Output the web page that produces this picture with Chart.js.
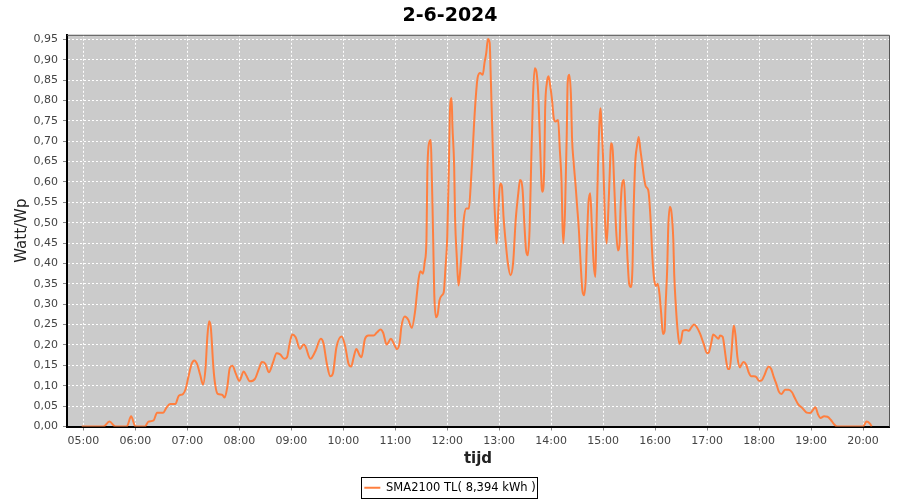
<!DOCTYPE html>
<html>
<head>
<meta charset="utf-8">
<script src="https://cdn.jsdelivr.net/npm/chart.js@4"></script>
<style>
  html, body { margin: 0; padding: 0; background: #ffffff; }
  #wrap { position: relative; width: 900px; height: 500px; }
</style>
</head>
<body>
<div id="wrap"><canvas id="powerChart" width="900" height="500"></canvas></div>
<script>
const chartTitle = "2-6-2024";
const seriesName = "SMA2100 TL( 8,394 kWh )";

const times = [
  "04:58","05:23","05:30","05:37","05:50","05:55","06:00","06:11","06:15","06:21",
  "06:25","06:32","06:36","06:40","06:46","06:50","06:55","06:58","07:01","07:05",
  "07:08","07:11","07:15","07:18","07:21","07:23","07:25","07:27","07:30","07:32",
  "07:35","07:40","07:43","07:46","07:49","07:52","07:56","08:00","08:05","08:08",
  "08:12","08:18","08:23","08:26","08:30","08:34","08:39","08:43","08:47","08:52",
  "08:55","08:58","09:01","09:05","09:10","09:14","09:16","09:22","09:28","09:34",
  "09:37","09:41","09:45","09:48","09:52","09:58","10:02","10:06","10:09","10:12",
  "10:15","10:19","10:21","10:25","10:29","10:35","10:39","10:43","10:46","10:50",
  "10:55","10:58","11:02","11:05","11:07","11:11","11:15","11:19","11:23","11:25",
  "11:27","11:29","11:32","11:34","11:36","11:37","11:39","11:41","11:42","11:43",
  "11:44","11:45","11:47","11:49","11:51","11:54","11:56","11:58","12:00","12:02",
  "12:03","12:05","12:06","12:08","12:09","12:11","12:13","12:15","12:17","12:19",
  "12:22","12:25","12:27","12:29","12:31","12:33","12:35","12:38","12:41","12:43",
  "12:45","12:47","12:49","12:50","12:52","12:54","12:56","12:57","12:59","13:01",
  "13:03","13:05","13:08","13:10","13:13","13:16","13:19","13:22","13:24","13:27",
  "13:29","13:31","13:33","13:35","13:37","13:39","13:41","13:43","13:45","13:47",
  "13:49","13:50","13:52","13:53","13:55","13:57","13:59","14:01","14:03","14:05",
  "14:08","14:10","14:12","14:13","14:14","14:16","14:18","14:19","14:21","14:23",
  "14:24","14:26","14:28","14:30","14:32","14:34","14:36","14:38","14:40","14:41",
  "14:43","14:45","14:47","14:49","14:51","14:52","14:54","14:56","14:57","14:58",
  "15:00","15:02","15:04","15:06","15:08","15:09","15:11","15:13","15:15","15:17",
  "15:19","15:20","15:22","15:24","15:26","15:28","15:30","15:32","15:34","15:35",
  "15:37","15:39","15:41","15:43","15:45","15:47","15:49","15:52","15:53","15:55",
  "15:57","15:59","16:01","16:03","16:05","16:07","16:09","16:11","16:12","16:14",
  "16:15","16:17","16:19","16:21","16:22","16:24","16:26","16:28","16:30","16:32",
  "16:36","16:39","16:42","16:45","16:48","16:52","16:56","17:00","17:02","17:05",
  "17:07","17:10","17:13","17:15","17:18","17:20","17:22","17:24","17:26","17:28",
  "17:30","17:31","17:33","17:35","17:38","17:39","17:42","17:45","17:48","17:51",
  "17:54","17:57","18:00","18:03","18:06","18:09","18:11","18:14","18:17","18:20",
  "18:23","18:26","18:30","18:34","18:38","18:41","18:45","18:50","18:55","18:59",
  "19:02","19:05","19:08","19:11","19:15","19:19","19:23","19:26","19:30","20:00",
  "20:04","20:08","20:10"
];

const wattPerWp = [
  0, 0, 0.012, 0, 0, 0.025, 0, 0, 0.012, 0.015,
  0.034, 0.034, 0.047, 0.055, 0.055, 0.075, 0.08, 0.092, 0.12, 0.154,
  0.162, 0.154, 0.125, 0.103, 0.145, 0.219, 0.258, 0.244, 0.145, 0.104,
  0.08, 0.078, 0.071, 0.096, 0.144, 0.149, 0.129, 0.112, 0.135, 0.125,
  0.111, 0.117, 0.144, 0.158, 0.154, 0.133, 0.158, 0.18, 0.177, 0.166,
  0.17, 0.203, 0.226, 0.219, 0.19, 0.201, 0.198, 0.166, 0.186, 0.215,
  0.205, 0.154, 0.123, 0.13, 0.194, 0.221, 0.199, 0.154, 0.147, 0.17,
  0.19, 0.174, 0.17, 0.215, 0.223, 0.223, 0.231, 0.238, 0.23, 0.201,
  0.215, 0.205, 0.19, 0.205, 0.244, 0.27, 0.262, 0.242, 0.285, 0.326,
  0.363, 0.381, 0.375, 0.404, 0.457, 0.621, 0.695, 0.703, 0.629, 0.539,
  0.432, 0.326, 0.268, 0.276, 0.309, 0.322, 0.33, 0.391, 0.465, 0.646,
  0.769, 0.806, 0.736, 0.637, 0.514, 0.416, 0.346, 0.383, 0.44, 0.506,
  0.535, 0.535, 0.588, 0.662, 0.744, 0.81, 0.855, 0.867, 0.863, 0.892,
  0.916, 0.951, 0.941, 0.875, 0.728, 0.572, 0.481, 0.449, 0.531, 0.596,
  0.59, 0.514, 0.44, 0.4, 0.371, 0.4, 0.506, 0.572, 0.605, 0.58,
  0.498, 0.432, 0.42, 0.481, 0.654, 0.81, 0.879, 0.87, 0.818, 0.703,
  0.588, 0.576, 0.637, 0.777, 0.843, 0.859, 0.834, 0.801, 0.756, 0.748,
  0.752, 0.678, 0.596, 0.498, 0.449, 0.531, 0.72, 0.843, 0.863, 0.801,
  0.711, 0.646, 0.596, 0.539, 0.481, 0.4, 0.334, 0.322, 0.367, 0.44,
  0.547, 0.572, 0.49, 0.4, 0.367, 0.465, 0.637, 0.76, 0.781, 0.744,
  0.654, 0.514, 0.449, 0.531, 0.646, 0.695, 0.678, 0.58, 0.481, 0.432,
  0.449, 0.531, 0.596, 0.605, 0.514, 0.416, 0.35, 0.342, 0.4, 0.514,
  0.646, 0.687, 0.71, 0.678, 0.646, 0.613, 0.59, 0.58, 0.564, 0.498,
  0.41, 0.359, 0.345, 0.35, 0.326, 0.277, 0.227, 0.235, 0.293, 0.391,
  0.481, 0.539, 0.523, 0.457, 0.375, 0.293, 0.235, 0.203, 0.211, 0.235,
  0.237, 0.235, 0.244, 0.25, 0.244, 0.227, 0.203, 0.18, 0.182, 0.207,
  0.226, 0.221, 0.215, 0.223, 0.22, 0.194, 0.162, 0.141, 0.141, 0.178,
  0.235, 0.248, 0.219, 0.17, 0.145, 0.149, 0.158, 0.152, 0.133, 0.123,
  0.123, 0.121, 0.112, 0.113, 0.125, 0.141, 0.147, 0.141, 0.121, 0.104,
  0.085, 0.08, 0.09, 0.09, 0.084, 0.071, 0.055, 0.045, 0.034, 0.033,
  0.04, 0.047, 0.03, 0.021, 0.025, 0.024, 0.016, 0.007, 0, 0,
  0.012, 0.007, 0
];

const xTickLabels = [
  "05:00","06:00","07:00","08:00","09:00","10:00","11:00","12:00",
  "13:00","14:00","15:00","16:00","17:00","18:00","19:00","20:00"
];
const yTickValues = [
  0, 0.05, 0.10, 0.15, 0.20, 0.25, 0.30, 0.35, 0.40, 0.45,
  0.50, 0.55, 0.60, 0.65, 0.70, 0.75, 0.80, 0.85, 0.90, 0.95
];

const lineColor = "#ff7f3f";

function toMinutes(t) {
    const parts = t.split(":");
    return Number(parts[0]) * 60 + Number(parts[1]);
}

function toClock(m) {
    const h = Math.floor(m / 60);
    const min = Math.round(m % 60);
    return String(h).padStart(2, "0") + ":" + String(min).padStart(2, "0");
}

const points = times.map((t, i) => ({ x: toMinutes(t), y: wattPerWp[i] }));

// grey plot background + dark top/right frame + legend box
const plotFrame = {
    id: "plotFrame",
    beforeDraw(chart) {
        const a = chart.chartArea;
        const ctx = chart.ctx;
        ctx.save();
        ctx.fillStyle = "#cbcbcb";
        ctx.fillRect(a.left, a.top, a.right - a.left, a.bottom - a.top);
        ctx.restore();
    },
    afterDraw(chart) {
        const a = chart.chartArea;
        const ctx = chart.ctx;
        ctx.save();
        ctx.strokeStyle = "#555555";
        ctx.lineWidth = 1;
        ctx.beginPath();
        ctx.moveTo(a.left, a.top + 0.5);
        ctx.lineTo(a.right + 0.5, a.top + 0.5);
        ctx.lineTo(a.right + 0.5, a.bottom);
        ctx.stroke();

        const box = chart.legend.legendHitBoxes[0];
        if (box) {
            ctx.strokeStyle = "#000000";
            ctx.strokeRect(Math.round(box.left) - 2.5, Math.round(box.top) - 4.5,
                Math.round(box.width) + 5, Math.round(box.height) + 9);
        }
        ctx.restore();
    }
};

new Chart(document.getElementById("powerChart"), {

    type: "line",

    data: {
        datasets: [
            {
                label: seriesName,
                data: points,
                borderColor: lineColor,
                backgroundColor: lineColor,
                borderWidth: 2,
                pointRadius: 0,
                cubicInterpolationMode: "monotone",
                fill: false
            }
        ]
    },

    options: {
        responsive: false,
        animation: false,
        devicePixelRatio: 1,

        layout: {
            padding: { left: 0, right: 0, top: 0, bottom: -3.5 }
        },

        plugins: {
            title: {
                display: true,
                text: chartTitle,
                color: "#000000",
                font: { family: "DejaVu Sans", size: 19, weight: "bold" },
                padding: { top: 5, bottom: 7 }
            },
            legend: {
                position: "bottom",
                labels: {
                    color: "#333333",
                    font: { family: "DejaVu Sans", size: 11.5 },
                    boxWidth: 16,
                    boxHeight: 2,
                    padding: 6,
                    generateLabels: function () {
                        return [{
                            text: seriesName,
                            fillStyle: lineColor,
                            strokeStyle: lineColor,
                            lineWidth: 0,
                            datasetIndex: 0
                        }];
                    }
                }
            },
            tooltip: { enabled: false }
        },

        scales: {
            x: {
                type: "linear",
                min: 281,
                max: 1230,
                afterBuildTicks: function (scale) {
                    scale.ticks = xTickLabels.map(t => ({ value: toMinutes(t) }));
                },
                afterFit: function (scale) {
                    scale.height = 49.5;
                },
                grid: {
                    color: "#ffffff",
                    lineWidth: 1,
                    tickColor: "#888888",
                    tickLength: 4,
                    tickBorderDash: []
                },
                border: { color: "#000000", width: 2, dash: [2, 2] },
                ticks: {
                    autoSkip: false,
                    maxRotation: 0,
                    padding: 4,
                    color: "#444444",
                    font: { family: "DejaVu Sans", size: 11 },
                    callback: function (value) {
                        return toClock(value);
                    }
                },
                title: {
                    display: true,
                    text: "tijd",
                    color: "#222222",
                    font: { family: "DejaVu Sans", size: 15, weight: "bold" },
                    padding: { top: 0, bottom: 7.5 }
                }
            },
            y: {
                min: 0,
                max: 0.961,
                afterBuildTicks: function (scale) {
                    scale.ticks = yTickValues.map(v => ({ value: v }));
                },
                afterFit: function (scale) {
                    scale.width = 67;
                },
                grid: {
                    color: "#ffffff",
                    lineWidth: 1,
                    tickColor: "#888888",
                    tickLength: 4,
                    tickBorderDash: []
                },
                border: { color: "#000000", width: 2, dash: [2, 2] },
                ticks: {
                    autoSkip: false,
                    padding: 5,
                    color: "#444444",
                    font: { family: "DejaVu Sans", size: 11 },
                    callback: function (value) {
                        return value.toFixed(2).replace(".", ",");
                    }
                },
                title: {
                    display: true,
                    text: "Watt/Wp",
                    color: "#222222",
                    font: { family: "DejaVu Sans", size: 15 },
                    padding: { top: 13, bottom: 0 }
                }
            },
            // empty strip on the right so the plot ends where the reference does
            yRight: {
                position: "right",
                display: true,
                min: 0,
                max: 1,
                afterFit: function (scale) {
                    scale.width = 11;
                },
                grid: { display: false, drawTicks: false },
                border: { display: false },
                ticks: { display: false }
            }
        }
    },

    plugins: [plotFrame]
});
</script>
</body>
</html>
